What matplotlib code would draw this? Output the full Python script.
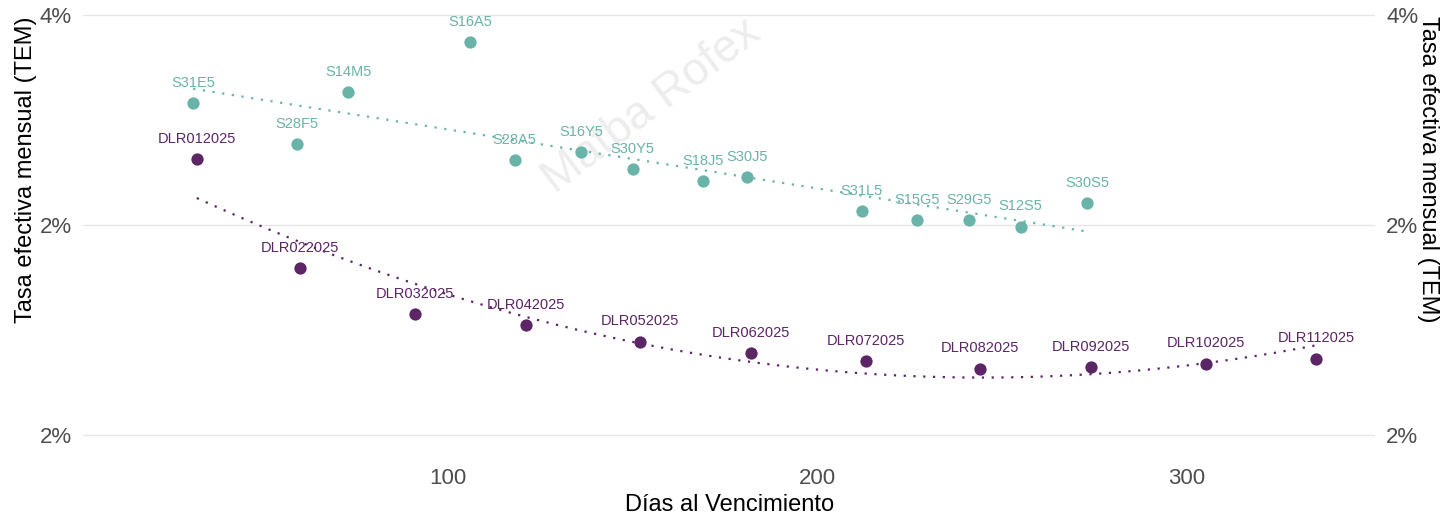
import numpy as np
import matplotlib.pyplot as plt

plt.rcParams['font.family'] = ['Liberation Sans', 'DejaVu Sans']

# LECAPs (pesos)
lecap_tickers = ['S31E5', 'S28F5', 'S14M5', 'S16A5', 'S28A5', 'S16Y5', 'S30Y5',
                 'S18J5', 'S30J5', 'S31L5', 'S15G5', 'S29G5', 'S12S5', 'S30S5']
lecap_dias = [31, 59, 73, 106, 118, 136, 150, 169, 181, 212, 227, 241, 255, 273]
lecap_tem = [3.08, 2.884, 3.132, 3.37, 2.807, 2.848, 2.764, 2.708, 2.729,
             2.564, 2.521, 2.522, 2.492, 2.602]

# futuros de dolar
dlr_tickers = ['DLR012025', 'DLR022025', 'DLR032025', 'DLR042025', 'DLR052025',
               'DLR062025', 'DLR072025', 'DLR082025', 'DLR092025', 'DLR102025',
               'DLR112025']
dlr_dias = [32, 60, 91, 121, 152, 182, 213, 244, 274, 305, 335]
dlr_tem = [2.813, 2.295, 2.076, 2.022, 1.945, 1.890, 1.852, 1.816, 1.822,
           1.840, 1.864]

yticks = [1.5, 2.5, 3.5]
ytick_labels = ['2%', '2%', '4%']
xticks = [100, 200, 300]

col_lecap = '#6ab3a9'
col_dlr = '#5b2566'

fig = plt.figure(figsize=(14.49, 5.17), dpi=100)
ax = fig.add_axes([0.0573, 0.1545, 0.8917, 0.8211])

# tendencias
x1 = np.linspace(min(lecap_dias), max(lecap_dias), 100)
p1 = np.polyfit(lecap_dias, lecap_tem, 1)
ax.plot(x1, np.polyval(p1, x1), color=col_lecap, lw=1.6, ls=(0, (1, 3.4)), zorder=2)
x2 = np.linspace(min(dlr_dias), max(dlr_dias), 200)
p2 = np.polyfit(dlr_dias, dlr_tem, 2)
ax.plot(x2, np.polyval(p2, x2), color=col_dlr, lw=1.6, ls=(0, (1, 3.4)), zorder=2)

ax.scatter(lecap_dias, lecap_tem, s=78, color=col_lecap, zorder=3, linewidths=0)
ax.scatter(dlr_dias, dlr_tem, s=78, color=col_dlr, zorder=3, linewidths=0)

for t, x, y in zip(lecap_tickers, lecap_dias, lecap_tem):
    ax.annotate(t, (x, y), xytext=(0, 14.5), textcoords='offset points',
                ha='center', va='center', fontsize=10.5, color=col_lecap, zorder=4)
for t, x, y in zip(dlr_tickers, dlr_dias, dlr_tem):
    ax.annotate(t, (x, y), xytext=(0, 14.5), textcoords='offset points',
                ha='center', va='center', fontsize=10.5, color=col_dlr, zorder=4)

# marca de agua
ax.text(0.44, 0.78, 'Matba Rofex', transform=ax.transAxes, rotation=37,
        fontsize=33, color='#ededed', ha='center', va='center', zorder=1)

ax.set_xlim(1.2, 350.9)
ax.set_ylim(1.49, 3.51)
ax.set_xticks(xticks)
ax.set_yticks(yticks)
ax.set_yticklabels(ytick_labels)
ax.grid(axis='y', color='#e6e6e6', lw=1.0)
ax.set_axisbelow(True)
for s in ax.spines.values():
    s.set_visible(False)
ax.tick_params(length=0, labelsize=16, labelcolor='#4d4d4d')
ax.tick_params(axis='x', pad=22)
ax.tick_params(axis='y', pad=8)
ax.set_xlabel('Días al Vencimiento', fontsize=17)
ax.xaxis.set_label_coords(0.5, -0.134)
ax.set_ylabel('Tasa efectiva mensual (TEM)', fontsize=17)
ax.yaxis.set_label_coords(-0.036, 0.63)

ax2 = ax.twinx()
ax2.set_ylim(ax.get_ylim())
ax2.set_yticks(yticks)
ax2.set_yticklabels(ytick_labels)
for s in ax2.spines.values():
    s.set_visible(False)
ax2.tick_params(length=0, labelsize=16, labelcolor='#4d4d4d', pad=8)
ax2.set_ylabel('Tasa efectiva mensual (TEM)', fontsize=17, rotation=270)
ax2.yaxis.set_label_coords(1.0495, 0.63)

fig.savefig('out.png', dpi=100, facecolor='white')
